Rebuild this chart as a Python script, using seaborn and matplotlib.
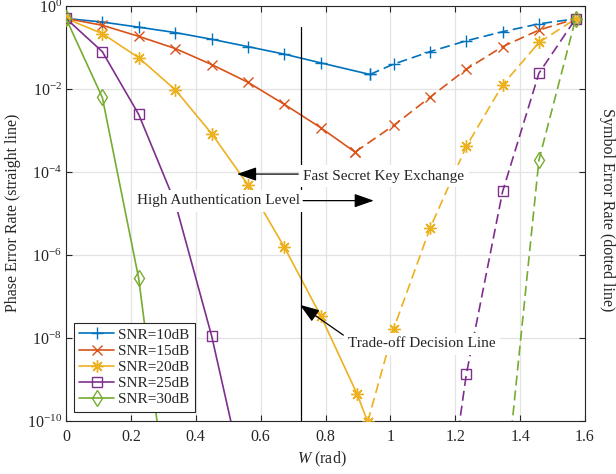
import matplotlib
matplotlib.use("Agg")
import matplotlib.pyplot as plt
import seaborn as sns
import pandas as pd
from matplotlib.ticker import FixedLocator, NullLocator, LogFormatterSciNotation

# ---------------- data ----------------
labels = ["SNR=10dB", "SNR=15dB", "SNR=20dB", "SNR=25dB", "SNR=30dB"]
colors = ["#0072BD", "#D95319", "#EDB120", "#7E2F8E", "#77AC30"]

# phase error rate (solid part)
x_solid_10 = [0, 0.112, 0.224, 0.337, 0.449, 0.561, 0.673, 0.785, 0.937]
y_solid_10 = [0.501, 0.411, 0.309, 0.229, 0.158, 0.105, 0.0692, 0.0427, 0.0224]
x_solid_15 = [0, 0.112, 0.224, 0.337, 0.449, 0.561, 0.673, 0.785, 0.891]
y_solid_15 = [0.501, 0.343, 0.186, 0.0944, 0.0389, 0.0145, 0.00427, 0.00117, 0.000302]
x_solid_20 = [0, 0.112, 0.224, 0.337, 0.449, 0.561, 0.673, 0.785, 0.898, 0.930]
y_solid_20 = [0.501, 0.216, 0.0569, 0.00955, 0.000841, 4.9e-5, 1.55e-6, 3.47e-8, 4.37e-10, 9.5e-11]
x_solid_25 = [0, 0.112, 0.224, 0.337, 0.449, 0.561]
y_solid_25 = [0.501, 0.0794, 0.00245, 1.78e-5, 1.12e-8, 1.45e-12]
x_solid_30 = [0, 0.112, 0.224, 0.337]
y_solid_30 = [0.501, 0.00624, 2.75e-7, 3.55e-14]

# symbol error rate (dashed part)
x_dash_10 = [0.937, 1.010, 1.122, 1.234, 1.346, 1.458, 1.571]
y_dash_10 = [0.0224, 0.0398, 0.0794, 0.145, 0.240, 0.372, 0.490]
x_dash_15 = [0.891, 1.010, 1.122, 1.234, 1.346, 1.458, 1.571]
y_dash_15 = [0.000302, 0.00132, 0.00631, 0.0299, 0.105, 0.263, 0.490]
x_dash_20 = [0.930, 1.010, 1.122, 1.234, 1.346, 1.458, 1.571]
y_dash_20 = [9.5e-11, 1.66e-8, 4.37e-6, 4.12e-4, 0.0126, 0.132, 0.490]
x_dash_25 = [1.122, 1.234, 1.346, 1.458, 1.571]
y_dash_25 = [7.9e-16, 1.32e-9, 3.39e-5, 0.024, 0.490]
x_dash_30 = [1.346, 1.458, 1.571]
y_dash_30 = [5.0e-13, 1.95e-4, 0.490]

x_ticks = [0, 0.2, 0.4, 0.6, 0.8, 1.0, 1.2, 1.4, 1.6]
x_ticklabels = ["0", "0.2", "0.4", "0.6", "0.8", "1", "1.2", "1.4", "1.6"]
y_ticks = [1e-10, 1e-8, 1e-6, 1e-4, 1e-2, 1e0]

decision_x = 0.723
decision_y = [1e-10, 0.316]

# ---------------- style ----------------
sns.set_theme(style="ticks")
plt.rcParams["font.family"] = ["Liberation Serif", "DejaVu Serif"]
plt.rcParams["mathtext.fontset"] = "custom"
plt.rcParams["mathtext.rm"] = "Liberation Serif"
plt.rcParams["mathtext.it"] = "Liberation Serif:italic"
plt.rcParams["mathtext.bf"] = "Liberation Serif:bold"

dark = "#262626"
fig = plt.figure(figsize=(6.16, 4.74), dpi=100)
ax = fig.add_axes([66 / 616, 53 / 474, 519 / 616, 415 / 474])
ax.set_yscale("log")

asterisk = (8, 2, 0)
series = [
    (x_solid_10, y_solid_10, x_dash_10, y_dash_10, "+", 8, "none"),
    (x_solid_15, y_solid_15, x_dash_15, y_dash_15, "x", 7, "none"),
    (x_solid_20, y_solid_20, x_dash_20, y_dash_20, asterisk, 9, "none"),
    (x_solid_25, y_solid_25, x_dash_25, y_dash_25, "s", 6.5, "none"),
    (x_solid_30, y_solid_30, x_dash_30, y_dash_30, "d", 8.5, "none"),
]

handles = []
for i, (xs, ys, xd, yd, mk, ms, mfc) in enumerate(series):
    c = colors[i]
    df_s = pd.DataFrame({"x": xs, "y": ys})
    df_d = pd.DataFrame({"x": xd, "y": yd})
    sns.lineplot(data=df_s, x="x", y="y", ax=ax, color=c, marker=mk, markersize=ms,
                 markerfacecolor=mfc, markeredgecolor=c, markeredgewidth=1.0,
                 linewidth=1.2, sort=False, estimator=None, label=labels[i], zorder=3)
    sns.lineplot(data=df_d, x="x", y="y", ax=ax, color=c, marker=mk, markersize=ms,
                 markerfacecolor=mfc, markeredgecolor=c, markeredgewidth=1.0,
                 linewidth=1.2, linestyle=(0, (6, 3)), sort=False, estimator=None,
                 zorder=3)
    handles.append(ax.lines[-2])

# decision line
ax.plot([decision_x, decision_x], decision_y, color="black", lw=0.9, zorder=4)

ax.set_xlim(0, 1.6)
ax.set_ylim(1e-10, 1)
ax.xaxis.set_major_locator(FixedLocator(x_ticks))
ax.set_xticklabels(x_ticklabels)
ax.yaxis.set_major_locator(FixedLocator(y_ticks))
ax.yaxis.set_minor_locator(NullLocator())
ax.yaxis.set_major_formatter(LogFormatterSciNotation())
ax.grid(True, color="#e3e3e3", lw=0.9)
ax.set_axisbelow(True)
ax.tick_params(direction="in", top=True, right=True, length=4, width=0.8,
               labelsize=11.5, colors=dark)
ax.tick_params(axis="x", pad=6)
ax.tick_params(axis="y", pad=3)
for s in ax.spines.values():
    s.set_color(dark)
    s.set_linewidth(0.8)
ax.set_xlabel("")
ax.set_ylabel("")

# labels
fig.text(13 / 616, 1 - 213 / 474, "Phase Error Rate (straight line)", rotation=90,
         ha="center", va="center", fontsize=11.5, color=dark)
fig.text(607 / 616, 1 - 210 / 474, "Symbol Error Rate (dotted line)", rotation=270,
         ha="center", va="center", fontsize=11.5, color=dark)
fig.text(322 / 616, 1 - 459 / 474, "$W$ (rad)", ha="center", va="center",
         fontsize=11.5, color=dark)

# legend
leg = ax.legend(handles=handles, labels=labels, loc="lower left",
                bbox_to_anchor=(0.0154, 0.0224), borderaxespad=0, fontsize=11,
                frameon=True, fancybox=False, framealpha=1, edgecolor=dark,
                handlelength=2.3, handletextpad=0.25, borderpad=0.35,
                labelspacing=0.16, numpoints=1)
leg.get_frame().set_linewidth(0.8)
leg.set_zorder(6)

# annotations
arrow = dict(arrowstyle="-|>,head_length=1.0,head_width=0.35", color="black",
             lw=0.9, shrinkA=0, shrinkB=0)
box = dict(boxstyle="square,pad=0.3", facecolor="white", edgecolor="none")

ax.annotate("", xy=(0.527, 10 ** -4.05), xytext=(0.716, 10 ** -4.05),
            arrowprops=arrow, zorder=8)
ax.text(0.980, 10 ** -4.10, "Fast Secret Key Exchange", ha="center", va="center",
        fontsize=11, bbox=box, zorder=7)

ax.annotate("", xy=(0.949, 10 ** -4.69), xytext=(0.731, 10 ** -4.69),
            arrowprops=arrow, zorder=8)
ax.text(0.4686, 10 ** -4.69, "High Authentication Level", ha="center", va="center",
        fontsize=11, bbox=box, zorder=7)

ax.annotate("", xy=(0.721, 10 ** -7.20), xytext=(0.855, 10 ** -7.93),
            arrowprops=arrow, zorder=8)
ax.text(1.096, 10 ** -8.14, "Trade-off Decision Line", ha="center", va="center",
        fontsize=11, bbox=box, zorder=7)

fig.savefig("out.png", dpi=100)
